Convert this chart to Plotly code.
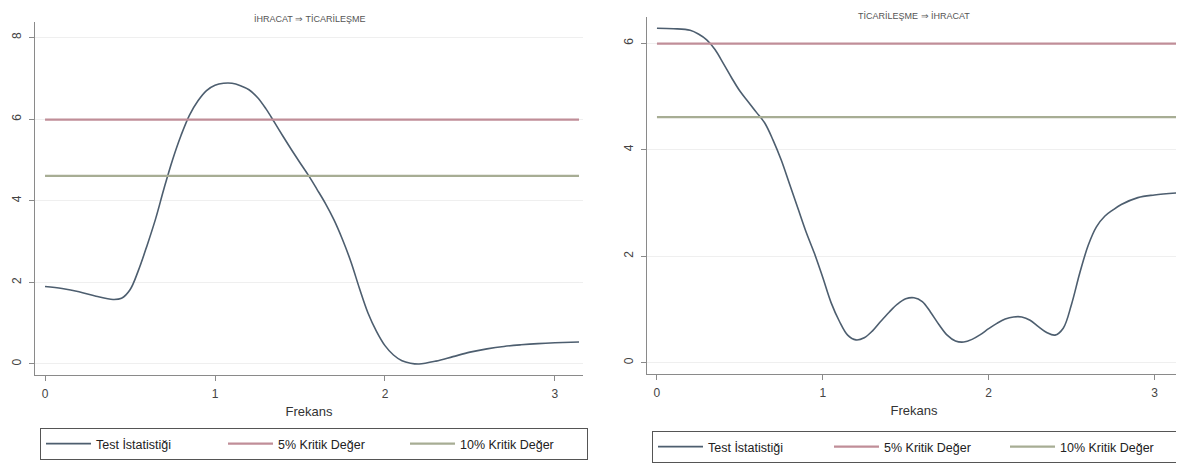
import plotly.graph_objects as go
import math

# ---------------- data ----------------
freq_left = [0.0, 0.1, 0.2, 0.3, 0.4, 0.45, 0.5, 0.55, 0.6, 0.65, 0.7, 0.75, 0.8, 0.85,
             0.9, 0.95, 1.0, 1.05, 1.1, 1.15, 1.2, 1.25, 1.3, 1.35, 1.4, 1.45, 1.5,
             1.55, 1.6, 1.65, 1.7, 1.75, 1.8, 1.85, 1.9, 1.95, 2.0, 2.05, 2.1, 2.15,
             2.2, 2.3, 2.4, 2.5, 2.6, 2.7, 2.8, 2.9, 3.0, 3.1416]
test_left = [1.90, 1.85, 1.77, 1.66, 1.58, 1.61, 1.82, 2.30, 2.90, 3.55, 4.30, 5.00, 5.60, 6.10,
             6.45, 6.70, 6.83, 6.88, 6.88, 6.82, 6.72, 6.53, 6.25, 5.92, 5.58, 5.25, 4.93,
             4.62, 4.28, 3.93, 3.53, 3.05, 2.50, 1.85, 1.25, 0.80, 0.45, 0.22, 0.08, 0.02,
             0.00, 0.07, 0.18, 0.29, 0.37, 0.43, 0.47, 0.50, 0.52, 0.54]

freq_right = [0.0, 0.1, 0.2, 0.25, 0.3, 0.35, 0.4, 0.45, 0.5, 0.55, 0.6, 0.65, 0.7, 0.75,
              0.8, 0.85, 0.9, 0.95, 1.0, 1.05, 1.1, 1.15, 1.2, 1.25, 1.3, 1.35, 1.4,
              1.45, 1.5, 1.55, 1.6, 1.65, 1.7, 1.75, 1.8, 1.85, 1.9, 1.95, 2.0, 2.05,
              2.1, 2.15, 2.2, 2.25, 2.3, 2.35, 2.4, 2.45, 2.5, 2.55, 2.6, 2.65, 2.7,
              2.75, 2.8, 2.9, 3.0, 3.1416]
test_right = [6.28, 6.27, 6.24, 6.17, 6.06, 5.88, 5.62, 5.35, 5.10, 4.90, 4.70, 4.50, 4.18, 3.80,
              3.35, 2.90, 2.45, 2.05, 1.60, 1.13, 0.78, 0.52, 0.43, 0.47, 0.60, 0.78, 0.95,
              1.10, 1.20, 1.22, 1.15, 0.95, 0.72, 0.52, 0.41, 0.39, 0.44, 0.53, 0.64, 0.74,
              0.82, 0.86, 0.86, 0.80, 0.68, 0.57, 0.52, 0.65, 1.10, 1.69, 2.20, 2.55, 2.75,
              2.87, 2.97, 3.10, 3.15, 3.19]

crit_5 = 5.99
crit_10 = 4.61
freq_span = [0.0, math.pi]

titles = ["İHRACAT ⇒ TİCARİLEŞME", "TİCARİLEŞME ⇒ İHRACAT"]
series_names = ["Test İstatistiği", "5% Kritik Değer", "10% Kritik Değer"]
x_ticks = [0, 1, 2, 3]
y_ticks_left = [0, 2, 4, 6, 8]
y_ticks_right = [0, 2, 4, 6]

# ---------------- styling ----------------
W, H = 1184, 464
OFF = 8  # page body margin offset of the figure inside the window
C_TEST = "#4d5e6f"
C_5 = "#c08e98"
C_10 = "#a7ad94"
FONT = "Liberation Sans, Arial, sans-serif"

fig = go.Figure()

panels = [
    dict(x=freq_left, y=test_left, xa="x", ya="y", legend="legend"),
    dict(x=freq_right, y=test_right, xa="x2", ya="y2", legend="legend2"),
]
for p in panels:
    fig.add_trace(go.Scatter(x=p["x"], y=p["y"], mode="lines", name=series_names[0],
                             line=dict(color=C_TEST, width=1.6, shape="spline", smoothing=1.0),
                             xaxis=p["xa"], yaxis=p["ya"], legend=p["legend"]))
    fig.add_trace(go.Scatter(x=freq_span, y=[crit_5, crit_5], mode="lines", name=series_names[1],
                             line=dict(color=C_5, width=2.2),
                             xaxis=p["xa"], yaxis=p["ya"], legend=p["legend"]))
    fig.add_trace(go.Scatter(x=freq_span, y=[crit_10, crit_10], mode="lines", name=series_names[2],
                             line=dict(color=C_10, width=2.2),
                             xaxis=p["xa"], yaxis=p["ya"], legend=p["legend"]))

def px_x(v):
    return (v - OFF) / W

def px_y(v):
    return 1 - (v - OFF) / H

axis_common = dict(showline=True, linecolor="#8a8a8a", linewidth=1, ticks="outside",
                   ticklen=5, tickcolor="#8a8a8a", tickfont=dict(size=12, color="#444", family=FONT),
                   zeroline=False, automargin=False)
xaxis_extra = dict(showgrid=False, ticklabelstandoff=3,
                   title=dict(text="Frekans", font=dict(size=13, color="#333", family=FONT), standoff=6))
yaxis_extra = dict(tickangle=-90, showgrid=True, gridcolor="#efefef", gridwidth=1, ticklabelstandoff=3)

legend_common = dict(orientation="h", xanchor="left", yanchor="bottom",
                     bordercolor="#555", borderwidth=1, bgcolor="white",
                     font=dict(size=12.5, color="#222", family=FONT),
                     entrywidthmode="pixels", itemwidth=45, tracegroupgap=0)

fig.update_layout(
    width=W, height=H,
    margin=dict(l=0, r=0, t=0, b=0),
    paper_bgcolor="white", plot_bgcolor="white",
    font=dict(family=FONT, color="#333"),
    showlegend=True,
    xaxis=dict(domain=[px_x(35), px_x(583)], range=[-0.059, 3.165], tickvals=x_ticks, anchor="y",
               **axis_common, **xaxis_extra),
    yaxis=dict(domain=[px_y(375), px_y(22)], range=[-0.27, 8.38], tickvals=y_ticks_left, anchor="x",
               **axis_common, **yaxis_extra),
    xaxis2=dict(domain=[px_x(647), px_x(1181)], range=[-0.06, 3.16], tickvals=x_ticks, anchor="y2",
                **axis_common, **xaxis_extra),
    yaxis2=dict(domain=[px_y(374), px_y(17)], range=[-0.21, 6.49], tickvals=y_ticks_right, anchor="x2",
                **axis_common, **yaxis_extra),
    legend=dict(x=px_x(40), y=px_y(460), entrywidth=122, **legend_common),
    legend2=dict(x=px_x(652), y=px_y(463), entrywidth=116, **legend_common),
    annotations=[
        dict(text=titles[0], x=px_x(310), y=px_y(19), xref="paper", yref="paper",
             xanchor="center", yanchor="middle",
             showarrow=False, font=dict(size=9, color="#555", family=FONT)),
        dict(text=titles[1], x=px_x(914), y=px_y(9), xref="paper", yref="paper",
             xanchor="center", yanchor="top",
             showarrow=False, font=dict(size=9, color="#555", family=FONT)),
    ],
)

fig.write_html("out.html")
